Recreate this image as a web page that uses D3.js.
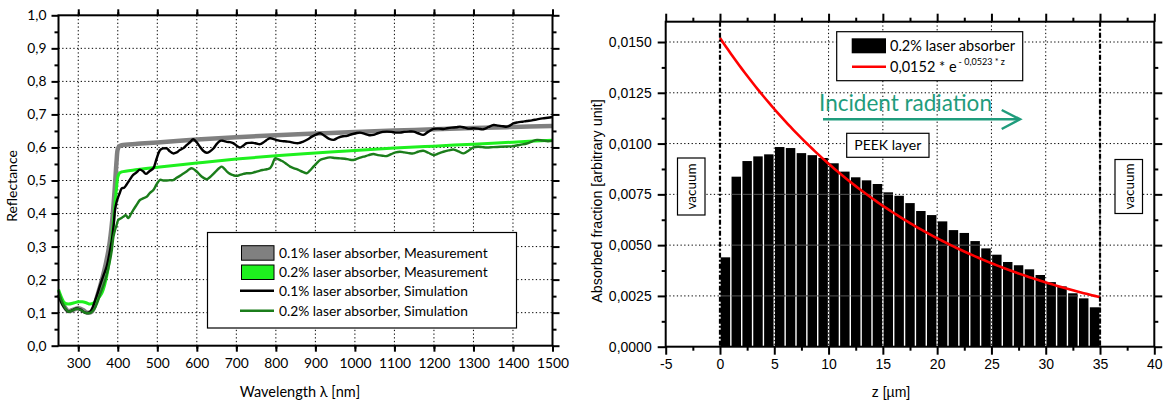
<!DOCTYPE html>
<html><head><meta charset="utf-8">
<script src="https://cdn.jsdelivr.net/npm/d3@7"></script>
<style>body{margin:0;background:#fff}svg{display:block}</style>
</head><body>
<svg id="c" width="1168" height="402"></svg>
<script>
// ---------- LEFT CHART DATA ----------
const wlGray = [250,262,275,290,300,312,322,335,348,360,370,378,386,392,397,400,404,410,450,500,600,700,800,900,1000,1100,1200,1300,1400,1500];
const rGray  = [0.155,0.125,0.105,0.11,0.113,0.108,0.1,0.104,0.15,0.2,0.25,0.3,0.38,0.47,0.56,0.595,0.604,0.607,0.611,0.615,0.624,0.631,0.637,0.642,0.647,0.651,0.655,0.659,0.662,0.665];

const wlLight = [250,258,265,275,290,300,310,320,330,340,350,360,368,375,382,388,393,397,400,404,410,450,500,600,700,800,900,1000,1100,1200,1300,1400,1500];
const rLight  = [0.17,0.145,0.13,0.126,0.13,0.133,0.133,0.13,0.126,0.13,0.142,0.16,0.19,0.23,0.29,0.36,0.43,0.48,0.51,0.522,0.526,0.533,0.54,0.553,0.565,0.575,0.583,0.591,0.598,0.604,0.61,0.616,0.622];

const wlBlack = [250,262,275,286,296,306,317,325,330,336,342,348,355,363,372,379,385,390,393,397,401,405,410,416,422,430,439,447,456,464,471,480,490,498,507,515,524,532,540,549,557,566,574,582,591,600,608,616,625,633,642,650,659,667,676,684,692,700,709,717,726,734,743,751,760,768,776,785,793,802,811,819,827,836,846,857,868,880,890,900,912,922,935,946,958,970,980,992,1002,1013,1025,1036,1047,1058,1070,1081,1092,1103,1114,1125,1136,1148,1160,1173,1186,1199,1212,1224,1233,1245,1256,1266,1278,1289,1300,1312,1325,1338,1351,1363,1375,1385,1393,1401,1412,1424,1435,1448,1461,1475,1488,1500];
const rBlack  = [0.153,0.12,0.103,0.108,0.113,0.109,0.1,0.1,0.103,0.115,0.135,0.155,0.182,0.21,0.24,0.28,0.32,0.37,0.41,0.435,0.45,0.462,0.476,0.478,0.487,0.502,0.517,0.524,0.533,0.528,0.52,0.528,0.537,0.565,0.592,0.597,0.597,0.588,0.582,0.585,0.592,0.598,0.607,0.615,0.625,0.615,0.602,0.59,0.584,0.588,0.597,0.61,0.62,0.62,0.617,0.616,0.613,0.606,0.6,0.605,0.613,0.614,0.614,0.612,0.61,0.615,0.622,0.628,0.626,0.622,0.62,0.619,0.618,0.617,0.614,0.613,0.617,0.624,0.632,0.638,0.643,0.636,0.626,0.623,0.63,0.634,0.635,0.64,0.643,0.645,0.641,0.637,0.638,0.643,0.647,0.648,0.647,0.645,0.645,0.647,0.648,0.648,0.643,0.638,0.648,0.656,0.657,0.656,0.658,0.66,0.661,0.663,0.66,0.657,0.658,0.657,0.655,0.662,0.668,0.666,0.664,0.663,0.667,0.673,0.676,0.678,0.68,0.682,0.685,0.688,0.69,0.692];

const wlDark = [250,262,275,286,296,306,317,325,332,340,348,355,363,372,379,385,389,393,397,401,407,414,420,427,433,439,447,456,464,473,481,490,498,507,515,524,532,540,549,557,566,574,580,587,595,604,612,625,633,642,650,657,663,670,677,684,692,701,709,718,726,734,743,751,760,768,777,785,791,798,805,812,819,827,836,846,857,868,878,886,895,903,912,922,937,950,963,975,986,996,1008,1022,1035,1047,1058,1070,1081,1092,1103,1114,1125,1136,1148,1160,1173,1186,1199,1212,1224,1237,1249,1262,1275,1288,1300,1312,1322,1334,1350,1368,1385,1401,1418,1435,1448,1461,1475,1488,1500];
const rDark  = [0.165,0.125,0.103,0.107,0.112,0.108,0.1,0.098,0.1,0.11,0.13,0.155,0.18,0.215,0.25,0.29,0.33,0.35,0.365,0.38,0.385,0.39,0.395,0.386,0.398,0.41,0.425,0.441,0.446,0.451,0.462,0.471,0.488,0.502,0.5,0.5,0.501,0.501,0.508,0.514,0.521,0.527,0.533,0.537,0.532,0.522,0.512,0.504,0.51,0.52,0.53,0.538,0.542,0.535,0.526,0.52,0.516,0.514,0.517,0.52,0.522,0.522,0.524,0.527,0.53,0.532,0.534,0.537,0.548,0.567,0.565,0.561,0.557,0.55,0.542,0.537,0.532,0.526,0.522,0.53,0.542,0.552,0.562,0.566,0.57,0.568,0.567,0.566,0.563,0.562,0.567,0.572,0.577,0.58,0.577,0.575,0.574,0.58,0.585,0.587,0.585,0.583,0.582,0.587,0.59,0.584,0.577,0.582,0.587,0.591,0.594,0.588,0.582,0.591,0.6,0.602,0.601,0.6,0.601,0.602,0.603,0.604,0.608,0.612,0.618,0.623,0.621,0.619,0.62];

const leftLegend = ["0.1% laser absorber, Measurement","0.2% laser absorber, Measurement","0.1% laser absorber, Simulation","0.2% laser absorber, Simulation"];
const leftXTicks = [300,400,500,600,700,800,900,1000,1100,1200,1300,1400,1500];
const leftYTicks = [0,0.1,0.2,0.3,0.4,0.5,0.6,0.7,0.8,0.9,1.0];

// ---------- RIGHT CHART DATA ----------
const zBins = d3.range(0,35);
const absorbed = [0.0044,0.00837,0.00914,0.00937,0.00947,0.00983,0.00978,0.00953,0.00943,0.00929,0.00903,0.00862,0.00834,0.00819,0.00801,0.0076,0.00743,0.00707,0.00668,0.00648,0.00617,0.00574,0.0056,0.0052,0.00484,0.00453,0.00417,0.00401,0.00381,0.00353,0.00318,0.00297,0.00263,0.00238,0.00194];
const fitA = 0.0152, fitK = 0.0523;
const rightXTicks = [-5,0,5,10,15,20,25,30,35,40];
const rightYTicks = [0,0.0025,0.005,0.0075,0.01,0.0125,0.015];

const svg = d3.select("#c");
const CAL = "Lato, 'Open Sans', sans-serif";
const ARI = "'Liberation Sans', Arial, sans-serif";
const fmtComma = (d, n) => d.toFixed(n).replace(".", ",");

// ================= LEFT =================
const L = {x0:58.5, x1:552.5, y0:15.3, y1:345.7};
const lx = d3.scaleLinear().domain([250,1500]).range([L.x0,L.x1]);
const ly = d3.scaleLinear().domain([0,1]).range([L.y1,L.y0]);
const gl = svg.append("g");

const dot = "1.3,2.4";
gl.append("g").selectAll("line").data(leftXTicks.filter(d=>d<1500)).join("line")
  .attr("x1",d=>lx(d)).attr("x2",d=>lx(d)).attr("y1",L.y0).attr("y2",L.y1)
  .attr("stroke","#000").attr("stroke-width",1).attr("stroke-dasharray",dot);
gl.append("g").selectAll("line").data(leftYTicks.filter(d=>d>0&&d<1)).join("line")
  .attr("y1",d=>ly(d)).attr("y2",d=>ly(d)).attr("x1",L.x0).attr("x2",L.x1)
  .attr("stroke","#000").attr("stroke-width",1).attr("stroke-dasharray",dot);

const lineL = (wl, r) => d3.line().x((d,i)=>lx(wl[i])).y((d,i)=>ly(r[i])).curve(d3.curveCatmullRom.alpha(0.5))(r);
gl.append("path").attr("d",lineL(wlGray,rGray)).attr("fill","none").attr("stroke","#808080").attr("stroke-width",4.5).attr("stroke-linejoin","round");
gl.append("path").attr("d",lineL(wlLight,rLight)).attr("fill","none").attr("stroke","#1ef01e").attr("stroke-width",3).attr("stroke-linejoin","round");
gl.append("path").attr("d",lineL(wlBlack,rBlack)).attr("fill","none").attr("stroke","#000").attr("stroke-width",2.4).attr("stroke-linejoin","round");
gl.append("path").attr("d",lineL(wlDark,rDark)).attr("fill","none").attr("stroke","#1b7d1b").attr("stroke-width",2.4).attr("stroke-linejoin","round");

const lg = gl.append("g");
lg.append("rect").attr("x",207.5).attr("y",232.5).attr("width",309).attr("height",95.5).attr("fill","#fff").attr("stroke","#000").attr("stroke-width",1.2);
const legRowY = [252.7,272,290.7,310.7];
leftLegend.forEach((t,i)=>{
  const y = legRowY[i];
  if(i<2){
    lg.append("rect").attr("x",241.5).attr("y",y-7).attr("width",32.5).attr("height",14.5)
      .attr("fill",i==0?"#808080":"#1ef01e").attr("stroke","#000").attr("stroke-width",1);
  } else {
    lg.append("line").attr("x1",240).attr("x2",274).attr("y1",y).attr("y2",y)
      .attr("stroke",i==2?"#000":"#1b7d1b").attr("stroke-width",2.4);
  }
  lg.append("text").attr("x",279).attr("y",y).attr("dy","0.35em").attr("font-family",CAL).attr("font-size",13.8).text(t);
});

gl.append("rect").attr("x",L.x0).attr("y",L.y0).attr("width",L.x1-L.x0).attr("height",L.y1-L.y0).attr("fill","none").attr("stroke","#000").attr("stroke-width",2);
const bAx = d3.axisBottom(lx).tickValues(leftXTicks).tickSize(6).tickFormat(d3.format("d"));
const tAx = d3.axisTop(lx).tickValues(d3.range(300,1501,100)).tickSize(6).tickFormat("");
const lAx = d3.axisLeft(ly).tickValues(leftYTicks).tickSize(7).tickFormat(d=>fmtComma(d,1));
const rAx = d3.axisRight(ly).tickValues(leftYTicks).tickSize(7).tickFormat("");
const minorX = d3.range(250,1500,100).map(d=>d+50);
const minorY = d3.range(0.05,1,0.1);
function styleAxis(g, font, size){
  g.select(".domain").remove();
  g.selectAll(".tick line").attr("stroke","#000").attr("stroke-width",2);
  g.selectAll("text").attr("font-family",font).attr("font-size",size).attr("fill","#000");
}
gl.append("g").attr("transform",`translate(0,${L.y1})`).call(bAx).call(g=>{styleAxis(g,CAL,13.8);g.selectAll("text").attr("dy","0.9em").attr("y",10);});
gl.append("g").attr("transform",`translate(0,${L.y0})`).call(tAx).call(g=>styleAxis(g,CAL,13));
gl.append("g").attr("transform",`translate(${L.x0},0)`).call(lAx).call(g=>{styleAxis(g,CAL,13.8);g.selectAll("text").attr("x",-12);});
gl.append("g").attr("transform",`translate(${L.x1},0)`).call(rAx).call(g=>styleAxis(g,CAL,13));
gl.append("g").attr("transform",`translate(0,${L.y1})`).call(d3.axisBottom(lx).tickValues(minorX).tickSize(3).tickFormat("")).call(g=>styleAxis(g,CAL,13));
gl.append("g").attr("transform",`translate(0,${L.y0})`).call(d3.axisTop(lx).tickValues(minorX).tickSize(3).tickFormat("")).call(g=>styleAxis(g,CAL,13));
gl.append("g").attr("transform",`translate(${L.x0},0)`).call(d3.axisLeft(ly).tickValues(minorY).tickSize(4).tickFormat("")).call(g=>styleAxis(g,CAL,13));
gl.append("g").attr("transform",`translate(${L.x1},0)`).call(d3.axisRight(ly).tickValues(minorY).tickSize(4).tickFormat("")).call(g=>styleAxis(g,CAL,13));

gl.append("text").attr("transform","translate(17,186) rotate(-90)").attr("text-anchor","middle").attr("font-family",CAL).attr("font-size",14).text("Reflectance");
gl.append("text").attr("x",300).attr("y",397).attr("text-anchor","middle").attr("font-family",CAL).attr("font-size",14.5).text("Wavelength λ [nm]");

// ================= RIGHT =================
const R = {x0:665.7, x1:1154.3, y0:21.7, y1:346.7};
const rx = d3.scaleLinear().domain([-5,40]).range([R.x0,R.x1]);
const ry = d3.scaleLinear().domain([0,0.016]).range([R.y1,R.y0]);
const gr = svg.append("g");

gr.append("g").selectAll("line").data([5,10,15,20,25,30,35]).join("line")
  .attr("x1",d=>rx(d)).attr("x2",d=>rx(d)).attr("y1",R.y0).attr("y2",R.y1)
  .attr("stroke","#000").attr("stroke-width",1).attr("stroke-dasharray",dot);
gr.append("g").selectAll("line").data(rightYTicks.filter(d=>d>0)).join("line")
  .attr("y1",d=>ry(d)).attr("y2",d=>ry(d)).attr("x1",R.x0).attr("x2",R.x1)
  .attr("stroke","#000").attr("stroke-width",1).attr("stroke-dasharray",dot);

const bw = rx(1)-rx(0);
gr.append("g").selectAll("rect").data(zBins).join("rect")
  .attr("x",d=>rx(d)+0.7).attr("width",bw-1.4)
  .attr("y",(d,i)=>ry(absorbed[i])).attr("height",(d,i)=>R.y1-ry(absorbed[i]))
  .attr("fill","#000");
const defs = svg.append("defs");
const cp = defs.append("clipPath").attr("id","barclip");
cp.selectAll("rect").data(zBins).join("rect")
  .attr("x",d=>rx(d)+0.7).attr("width",bw-1.4)
  .attr("y",(d,i)=>ry(absorbed[i])).attr("height",(d,i)=>R.y1-ry(absorbed[i]));
const inG = gr.append("g").attr("clip-path","url(#barclip)");
inG.selectAll("line.v").data([5,10,15,20,25,30]).join("line").attr("class","v")
  .attr("x1",d=>rx(d)).attr("x2",d=>rx(d)).attr("y1",R.y0).attr("y2",R.y1)
  .attr("stroke","#fff").attr("stroke-width",1).attr("stroke-dasharray","2,2");
inG.selectAll("line.h").data([0.0025,0.005,0.0075]).join("line").attr("class","h")
  .attr("y1",d=>ry(d)).attr("y2",d=>ry(d)).attr("x1",R.x0).attr("x2",R.x1)
  .attr("stroke","#555").attr("stroke-width",1);

const zFit = d3.range(0,35.01,0.25);
gr.append("path").datum(zFit)
  .attr("d",d3.line().x(z=>rx(z)).y(z=>ry(fitA*Math.exp(-fitK*z))))
  .attr("fill","none").attr("stroke","#f00").attr("stroke-width",2.6);

gr.selectAll("line.b").data([0,35]).join("line").attr("class","b")
  .attr("x1",d=>rx(d)).attr("x2",d=>rx(d)).attr("y1",R.y0).attr("y2",R.y1)
  .attr("stroke","#000").attr("stroke-width",2.2).attr("stroke-dasharray","5,2,2,2");

function box(x,y,w,h){ gr.append("rect").attr("x",x).attr("y",y).attr("width",w).attr("height",h).attr("fill","#fff").attr("stroke","#000").attr("stroke-width",1.2); }
box(677.5,158,27.5,57);
gr.append("text").attr("transform",`translate(691.5,186.5) rotate(-90)`).attr("text-anchor","middle").attr("dy","0.35em").attr("font-family",CAL).attr("font-size",13.5).text("vacuum");
box(1115,159.5,27.5,54);
gr.append("text").attr("transform",`translate(1129,186.5) rotate(-90)`).attr("text-anchor","middle").attr("dy","0.35em").attr("font-family",CAL).attr("font-size",13.5).text("vacuum");
box(846.7,133.3,82.3,24);
gr.append("text").attr("x",887.8).attr("y",145.5).attr("text-anchor","middle").attr("dy","0.35em").attr("font-family",CAL).attr("font-size",14).text("PEEK layer");

const teal = "#1f9c7c";
gr.append("text").attr("x",819).attr("y",111).attr("font-family",CAL).attr("font-size",22.5).attr("fill",teal).text("Incident radiation");
gr.append("line").attr("x1",823).attr("x2",1019).attr("y1",119.3).attr("y2",119.3).attr("stroke",teal).attr("stroke-width",2.5);
gr.append("path").attr("d","M1001.7,110 L1020,119.3 L1001.7,129").attr("fill","none").attr("stroke",teal).attr("stroke-width",2.5);

box(836.7,31.7,186,49);
gr.append("rect").attr("x",851.7).attr("y",38.3).attr("width",34.3).attr("height",15).attr("fill","#000");
gr.append("text").attr("x",890).attr("y",46).attr("dy","0.35em").attr("font-family",CAL).attr("font-size",14.5).text("0.2% laser absorber");
gr.append("line").attr("x1",852).attr("x2",886).attr("y1",66.7).attr("y2",66.7).attr("stroke","#f00").attr("stroke-width",2.6);
const ft = gr.append("text").attr("x",890).attr("y",71.5).attr("font-family",CAL).attr("font-size",14.5);
ft.append("tspan").text("0,0152 * e");
ft.append("tspan").attr("dy",-7).attr("dx",2).attr("font-size",9).text("- 0,0523 * z");

gr.append("rect").attr("x",R.x0).attr("y",R.y0).attr("width",R.x1-R.x0).attr("height",R.y1-R.y0).attr("fill","none").attr("stroke","#000").attr("stroke-width",2);
const minorZ = d3.range(-2.5,40,5);
const minorA = d3.range(0.00125,0.016,0.0025);
gr.append("g").attr("transform",`translate(0,${R.y1})`).call(d3.axisBottom(rx).tickValues(rightXTicks).tickSize(8).tickFormat(d=>String(d)))
  .call(g=>{styleAxis(g,ARI,14);g.selectAll("text").attr("y",12).attr("dy","0.75em");});
gr.append("g").attr("transform",`translate(0,${R.y0})`).call(d3.axisTop(rx).tickValues(rightXTicks).tickSize(8).tickFormat("")).call(g=>styleAxis(g,ARI,14));
gr.append("g").attr("transform",`translate(${R.x0},0)`).call(d3.axisLeft(ry).tickValues(rightYTicks).tickSize(8).tickFormat(d=>fmtComma(d,4)))
  .call(g=>{styleAxis(g,ARI,14);g.selectAll("text").attr("x",-14);});
gr.append("g").attr("transform",`translate(${R.x1},0)`).call(d3.axisRight(ry).tickValues(rightYTicks).tickSize(8).tickFormat("")).call(g=>styleAxis(g,ARI,14));
gr.append("g").attr("transform",`translate(0,${R.y1})`).call(d3.axisBottom(rx).tickValues(minorZ).tickSize(4).tickFormat("")).call(g=>styleAxis(g,ARI,14));
gr.append("g").attr("transform",`translate(0,${R.y0})`).call(d3.axisTop(rx).tickValues(minorZ).tickSize(4).tickFormat("")).call(g=>styleAxis(g,ARI,14));
gr.append("g").attr("transform",`translate(${R.x0},0)`).call(d3.axisLeft(ry).tickValues(minorA).tickSize(4).tickFormat("")).call(g=>styleAxis(g,ARI,14));
gr.append("g").attr("transform",`translate(${R.x1},0)`).call(d3.axisRight(ry).tickValues(minorA).tickSize(4).tickFormat("")).call(g=>styleAxis(g,ARI,14));

gr.append("text").attr("transform","translate(602,201) rotate(-90)").attr("text-anchor","middle").attr("font-family",ARI).attr("font-size",14.3).text("Absorbed fraction [arbitrary unit]");
gr.append("text").attr("x",891).attr("y",397).attr("text-anchor","middle").attr("font-family",ARI).attr("font-size",14).text("z [µm]");
</script>
</body></html>
